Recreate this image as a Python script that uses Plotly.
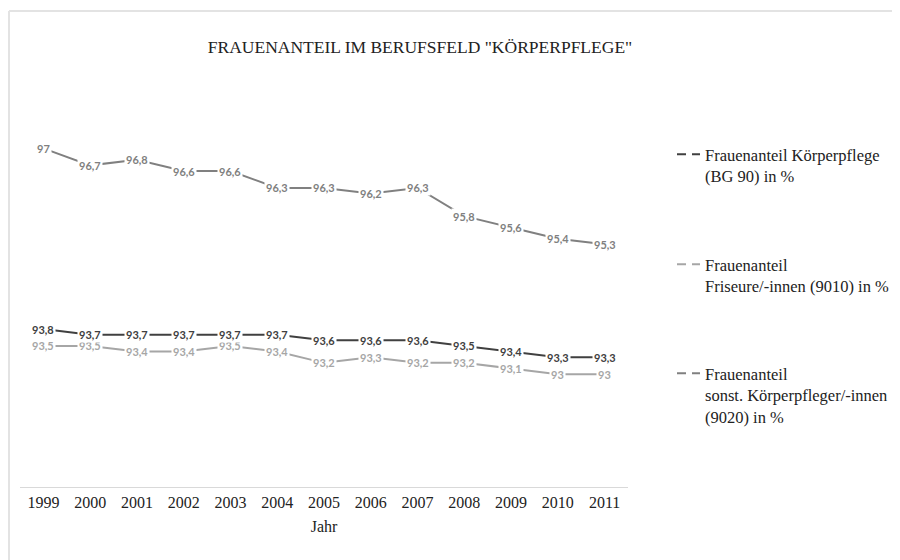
import plotly.graph_objects as go

# data
years = [str(y) for y in range(1999, 2012)]
bg90 = [93.8, 93.7, 93.7, 93.7, 93.7, 93.7, 93.6, 93.6, 93.6, 93.5, 93.4, 93.3, 93.3]
friseure = [93.5, 93.5, 93.4, 93.4, 93.5, 93.4, 93.2, 93.3, 93.2, 93.2, 93.1, 93, 93]
sonst = [97, 96.7, 96.8, 96.6, 96.6, 96.3, 96.3, 96.2, 96.3, 95.8, 95.6, 95.4, 95.3]

names = ["Frauenanteil Körperpflege<br>(BG 90) in %",
         "Frauenanteil<br>Friseure/-innen (9010) in %",
         "Frauenanteil<br>sonst. Körperpfleger/-innen<br>(9020) in %"]
series = [bg90, friseure, sonst]
colors = ["#404040", "#a6a6a6", "#808080"]

SERIF = "Times New Roman, Liberation Serif, serif"
# page body has an 8px margin, so the figure is a bit smaller than the window
W, H = 892, 552
L, R, T, B = 12, 272, 84, 73

fig = go.Figure()

for vals, col in zip(series, colors):
    fig.add_trace(go.Scatter(x=years, y=vals, mode="lines",
                             line=dict(color=col, width=2),
                             showlegend=False, hoverinfo="skip"))

# data labels sit on the points with a white box (category index as x);
# dark series last so its labels stay on top
annotations = []
for k in [2, 1, 0]:
    for i, v in enumerate(series[k]):
        annotations.append(dict(x=i, y=v, xref="x", yref="y",
                                text="<b>" + f"{v:g}".replace(".", ",") + "</b>",
                                showarrow=False, bgcolor="white", borderpad=1,
                                font=dict(family="Lato, sans-serif", size=11, color=colors[k])))

# legend entries (dashed key like the original)
legend_tops = [129, 239, 348]
for i, (name, col) in enumerate(zip(names, colors)):
    lg = "legend" if i == 0 else "legend%d" % (i + 1)
    fig.add_trace(go.Scatter(x=[years[0]], y=[None], mode="lines", name=name,
                             line=dict(color=col, width=2, dash="0px,7px,9px,6px,9px,20px"),
                             legend=lg, hoverinfo="skip"))
    fig.update_layout({lg: dict(x=657 / W, y=1 - legend_tops[i] / H,
                                xref="container", yref="container",
                                xanchor="left", yanchor="top", valign="top",
                                bgcolor="rgba(0,0,0,0)",
                                font=dict(family=SERIF, size=16.5, color="#222222"))})

pw = W - L - R
ph = H - T - B
fx = (1 - L) / pw
fy = 1 + (T - 3) / ph
shapes = [
    dict(type="line", xref="paper", yref="paper", x0=fx, x1=fx, y0=-1, y1=fy,
         line=dict(color="#e3e3e3", width=2)),
    dict(type="line", xref="paper", yref="paper", x0=fx, x1=3, y0=fy, y1=fy,
         line=dict(color="#e3e3e3", width=2)),
]

fig.update_layout(
    width=W, height=H,
    margin=dict(l=L, r=R, t=T, b=B, autoexpand=False),
    paper_bgcolor="white", plot_bgcolor="white",
    title=dict(text='FRAUENANTEIL IM BERUFSFELD "KÖRPERPFLEGE"',
               x=412 / W, xref="container", xanchor="center",
               y=1 - 39 / H, yref="container", yanchor="middle",
               font=dict(family=SERIF, size=17.5, color="#222222")),
    xaxis=dict(type="category", categoryorder="array", categoryarray=years,
               range=[-0.5, len(years) - 0.5], showgrid=False,
               showline=True, linecolor="#d9d9d9", linewidth=1,
               ticks="", ticklabelstandoff=1,
               tickfont=dict(family=SERIF, size=16, color="#222222"),
               title=dict(text="Jahr", standoff=10,
                          font=dict(family=SERIF, size=16, color="#222222"))),
    yaxis=dict(range=[91, 98], visible=False, showgrid=False),
    annotations=annotations,
    shapes=shapes,
)

fig.write_html("out.html")
